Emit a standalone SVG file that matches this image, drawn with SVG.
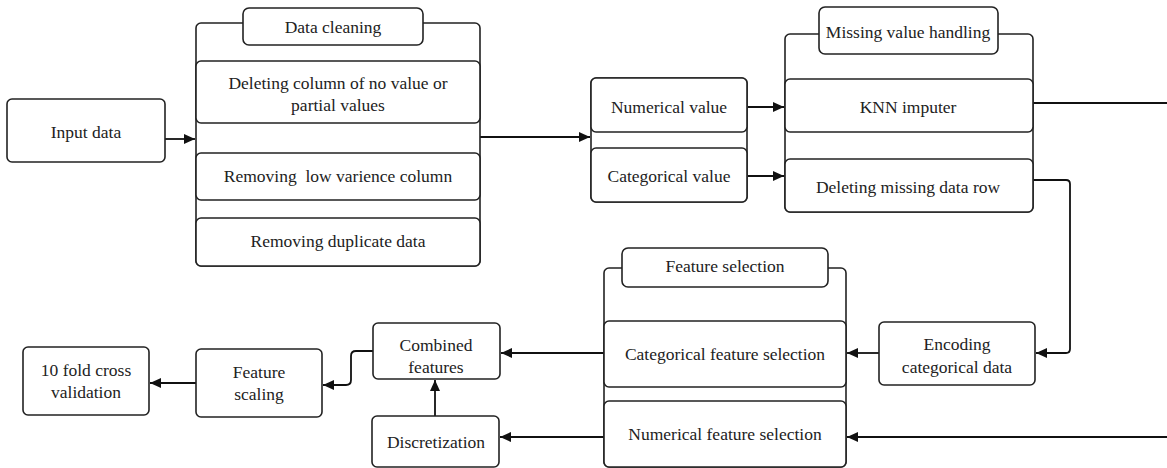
<svg xmlns="http://www.w3.org/2000/svg" width="1167" height="468" viewBox="0 0 1167 468">
<defs>
<marker id="ah" markerUnits="userSpaceOnUse" markerWidth="12" markerHeight="10" refX="11" refY="5" orient="auto">
<path d="M0,0 L11,5 L0,10 Z" fill="#111"/>
</marker>
<style>
.b{fill:#fff;stroke:#222;stroke-width:1.6}
text{font-family:"Liberation Serif","Times New Roman",serif;font-size:17.5px;fill:#222;text-anchor:middle;white-space:pre}
.c path,.c line{fill:none;stroke:#111;stroke-width:1.8}
</style>
</defs>
<rect width="1167" height="468" fill="#fff"/>

<g class="c" id="connectors">
<line x1="165" y1="139" x2="195" y2="139" marker-end="url(#ah)"/>
<line x1="480" y1="137" x2="590" y2="137" marker-end="url(#ah)"/>
<line x1="748" y1="107" x2="784" y2="107" marker-end="url(#ah)"/>
<line x1="748" y1="176" x2="784" y2="176" marker-end="url(#ah)"/>
<line x1="1033" y1="103" x2="1167" y2="103"/>
<path d="M1033,180 H1066 Q1070,180 1070,184 V349 Q1070,353 1066,353 H1036" marker-end="url(#ah)"/>
<line x1="879" y1="353" x2="847" y2="353" marker-end="url(#ah)"/>
<line x1="1167" y1="437" x2="847" y2="437" marker-end="url(#ah)"/>
<line x1="604" y1="353" x2="501" y2="353" marker-end="url(#ah)"/>
<line x1="604" y1="437" x2="500" y2="437" marker-end="url(#ah)"/>
<line x1="435" y1="416" x2="435" y2="380" marker-end="url(#ah)"/>
<path d="M373,351 H356 Q351,351 351,356 V380 Q351,385 346,385 H323" marker-end="url(#ah)"/>
<line x1="196" y1="383" x2="150" y2="383" marker-end="url(#ah)"/>
</g>

<g id="input-data">
<rect class="b" x="7" y="99" width="158" height="63" rx="5"/>
<text x="86" y="138">Input data</text>
</g>

<g id="data-cleaning">
<rect class="b" x="196" y="23" width="284" height="243" rx="5"/>
<rect class="b" x="243" y="8" width="180" height="37" rx="6"/>
<text x="333" y="33">Data cleaning</text>
</g>
<g id="deleting-column">
<rect class="b" x="196" y="61" width="284" height="62" rx="5"/>
<text x="338" y="89">Deleting column of no value or</text>
<text x="338" y="111">partial values</text>
</g>
<g id="removing-low-variance">
<rect class="b" x="196" y="153" width="284" height="47" rx="5"/>
<text x="338" y="182">Removing  low varience column</text>
</g>
<g id="removing-duplicate">
<rect class="b" x="196" y="218" width="284" height="48" rx="5"/>
<text x="338" y="247">Removing duplicate data</text>
</g>

<g id="value-type">
<rect class="b" x="591" y="78" width="156" height="124" rx="5"/>
</g>
<g id="numerical-value">
<rect class="b" x="591" y="78" width="156" height="54" rx="5"/>
<text x="669" y="113">Numerical value</text>
</g>
<g id="categorical-value">
<rect class="b" x="591" y="148" width="156" height="54" rx="5"/>
<text x="669" y="182">Categorical value</text>
</g>

<g id="missing-value-handling">
<rect class="b" x="785" y="34" width="248" height="178" rx="5"/>
<rect class="b" x="819" y="7" width="179" height="47" rx="6"/>
<text x="908" y="38">Missing value handling</text>
</g>
<g id="knn-imputer">
<rect class="b" x="785" y="79" width="248" height="53" rx="5"/>
<text x="908" y="113">KNN imputer</text>
</g>
<g id="deleting-missing-row">
<rect class="b" x="785" y="159" width="248" height="53" rx="5"/>
<text x="908" y="193">Deleting missing data row</text>
</g>

<g id="encoding-categorical">
<rect class="b" x="879" y="322" width="156" height="63" rx="5"/>
<text x="957" y="350">Encoding</text>
<text x="957" y="373">categorical data</text>
</g>

<g id="feature-selection">
<rect class="b" x="604" y="268" width="242" height="199" rx="5"/>
<rect class="b" x="622" y="248" width="206" height="39" rx="6"/>
<text x="725" y="272">Feature selection</text>
</g>
<g id="categorical-feature-selection">
<rect class="b" x="604" y="321" width="242" height="66" rx="5"/>
<text x="725" y="360">Categorical feature selection</text>
</g>
<g id="numerical-feature-selection">
<rect class="b" x="604" y="401" width="242" height="66" rx="5"/>
<text x="725" y="440">Numerical feature selection</text>
</g>

<g id="combined-features">
<rect class="b" x="373" y="323" width="127" height="56" rx="5"/>
<text x="436" y="351">Combined</text>
<text x="436" y="373">features</text>
</g>
<g id="discretization">
<rect class="b" x="372" y="416" width="127" height="51" rx="5"/>
<text x="436" y="448">Discretization</text>
</g>
<g id="feature-scaling">
<rect class="b" x="196" y="349" width="126" height="68" rx="5"/>
<text x="259" y="378">Feature</text>
<text x="259" y="400">scaling</text>
</g>
<g id="cross-validation">
<rect class="b" x="23" y="347" width="126" height="68" rx="5"/>
<text x="86" y="376">10 fold cross</text>
<text x="86" y="398">validation</text>
</g>
</svg>
